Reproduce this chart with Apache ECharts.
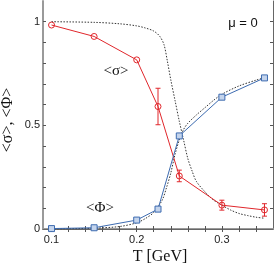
<!DOCTYPE html>
<html><head><meta charset="utf-8">
<script src="https://cdn.jsdelivr.net/npm/echarts@6/dist/echarts.min.js"></script>
<style>html,body{margin:0;padding:0;background:#fff}#c{width:274px;height:266px}</style>
</head><body><div id="c"></div>
<script>
const temps = [0.1, 0.15, 0.2, 0.225, 0.25, 0.3, 0.35];
const sigmaVals = [0.984, 0.929, 0.816, 0.591, 0.256, 0.115, 0.092];
const sigmaErr = [0, 0, 0, 0.088, 0.028, 0.024, 0.03];
const phiVals = [0.002, 0.006, 0.043, 0.096, 0.449, 0.636, 0.729];
const sigmaCurveT = [0.1, 0.15, 0.18, 0.2, 0.21, 0.22, 0.227, 0.232, 0.236, 0.24, 0.245, 0.25, 0.255, 0.26, 0.265, 0.27, 0.28, 0.29, 0.3, 0.31, 0.32, 0.33, 0.34, 0.35];
const sigmaCurveV = [1.0, 0.997, 0.99, 0.98, 0.97, 0.955, 0.93, 0.89, 0.81, 0.72, 0.62, 0.52, 0.43, 0.34, 0.28, 0.23, 0.18, 0.14, 0.115, 0.092, 0.075, 0.065, 0.057, 0.052];
const phiCurveT = [0.1, 0.15, 0.18, 0.2, 0.21, 0.22, 0.23, 0.235, 0.24, 0.245, 0.25, 0.255, 0.26, 0.27, 0.28, 0.29, 0.3, 0.32, 0.34, 0.35];
const phiCurveV = [0.0, 0.004, 0.012, 0.03, 0.05, 0.08, 0.14, 0.2, 0.27, 0.36, 0.43, 0.48, 0.51, 0.55, 0.585, 0.62, 0.65, 0.69, 0.718, 0.73];
const xLabels = [0.1, 0.2, 0.3];
const xTicks = [0.1, 0.12, 0.14, 0.16, 0.18, 0.2, 0.22, 0.24, 0.26, 0.28, 0.3, 0.32, 0.34];
const yLabels = [0, 0.5, 1];
const yTicks = [0.1, 0.2, 0.3, 0.4, 0.5, 0.6, 0.7, 0.8, 0.9, 1.0];

const red = '#e0262b', blue = '#3d6bb0', axisCol = '#9a9a9a';
const chart = echarts.init(document.getElementById('c'));
const zip = (a, b) => a.map((v, i) => [v, b[i]]);
const xBase = {type: 'value', min: 0.09, max: 0.36, splitLine: {show: false},
  axisLine: {show: true, onZero: false, lineStyle: {color: axisCol, width: 2}},
  axisTick: {show: true, inside: true, length: 3, customValues: xTicks, lineStyle: {color: '#555'}}};
const yBase = {type: 'value', min: 0, max: 1.1, splitLine: {show: false},
  axisLine: {show: true, onZero: false, lineStyle: {color: axisCol, width: 2}},
  axisTick: {show: true, inside: true, length: 3, customValues: yTicks, lineStyle: {color: '#555'}}};
chart.setOption({
  animation: false,
  grid: {left: 43, top: 1, width: 230, height: 228},
  xAxis: [
    Object.assign({}, xBase, {position: 'bottom', axisLabel: {customValues: xLabels, margin: 5, fontSize: 11, color: '#222', fontFamily: 'Liberation Sans', formatter: v => String(+v.toFixed(2))}}),
    Object.assign({}, xBase, {position: 'top', axisLabel: {show: false}, axisLine: {show: true, lineStyle: {color: '#666', width: 1}}})
  ],
  yAxis: [
    Object.assign({}, yBase, {position: 'left', axisLabel: {customValues: yLabels, margin: 3, fontSize: 11, color: '#222', fontFamily: 'Liberation Sans', formatter: v => String(+v.toFixed(2))}}),
    Object.assign({}, yBase, {position: 'right', axisLabel: {show: false}, axisLine: {show: true, lineStyle: {color: '#666', width: 1}}})
  ],
  graphic: [
    {type: 'text', x: 116, y: 71, style: {text: '<σ>', font: '15px "Liberation Serif"', fill: '#111', align: 'center', verticalAlign: 'middle'}},
    {type: 'text', x: 100, y: 208, style: {text: '<Φ>', font: '15px "Liberation Serif"', fill: '#111', align: 'center', verticalAlign: 'middle'}},
    {type: 'text', x: 243, y: 23, style: {text: 'μ = 0', font: '13px "Liberation Sans"', fill: '#111', align: 'center', verticalAlign: 'middle'}},
    {type: 'text', x: 160, y: 257, style: {text: 'T [GeV]', font: '16px "Liberation Serif"', fill: '#111', align: 'center', verticalAlign: 'middle'}},
    {type: 'text', x: 8, y: 120, rotation: Math.PI / 2, style: {text: '<σ>, <Φ>', font: '16px "Liberation Serif"', fill: '#111', align: 'center', verticalAlign: 'middle'}}
  ],
  series: [
    {type: 'line', data: zip(sigmaCurveT, sigmaCurveV), smooth: 0.3, symbol: 'none', lineStyle: {color: '#333', width: 1, type: [1.5, 1.5]}},
    {type: 'line', data: zip(phiCurveT, phiCurveV), smooth: 0.3, symbol: 'none', lineStyle: {color: '#333', width: 1, type: [1.5, 1.5]}},
    {type: 'custom', data: temps.map((t, i) => [t, sigmaVals[i] - sigmaErr[i], sigmaVals[i] + sigmaErr[i]]).filter((d, i) => sigmaErr[i] > 0),
      renderItem: (params, api) => {
        const lo = api.coord([api.value(0), api.value(1)]);
        const hi = api.coord([api.value(0), api.value(2)]);
        const w = 2.5;
        const st = {stroke: red, lineWidth: 1};
        return {type: 'group', children: [
          {type: 'line', shape: {x1: lo[0], y1: lo[1], x2: hi[0], y2: hi[1]}, style: st},
          {type: 'line', shape: {x1: lo[0] - w, y1: lo[1], x2: lo[0] + w, y2: lo[1]}, style: st},
          {type: 'line', shape: {x1: hi[0] - w, y1: hi[1], x2: hi[0] + w, y2: hi[1]}, style: st}
        ]};
      }, z: 3},
    {type: 'line', data: zip(temps, sigmaVals), symbol: 'circle', symbolSize: 6, showAllSymbol: true,
      lineStyle: {color: red, width: 1}, itemStyle: {color: 'rgba(255,255,255,0)', borderColor: red, borderWidth: 1}, z: 4},
    {type: 'line', data: zip(temps, phiVals), symbol: 'rect', symbolSize: 6, showAllSymbol: true,
      lineStyle: {color: blue, width: 1}, itemStyle: {color: '#c4d4ec', borderColor: blue, borderWidth: 1}, z: 4}
  ]
});
</script></body></html>
